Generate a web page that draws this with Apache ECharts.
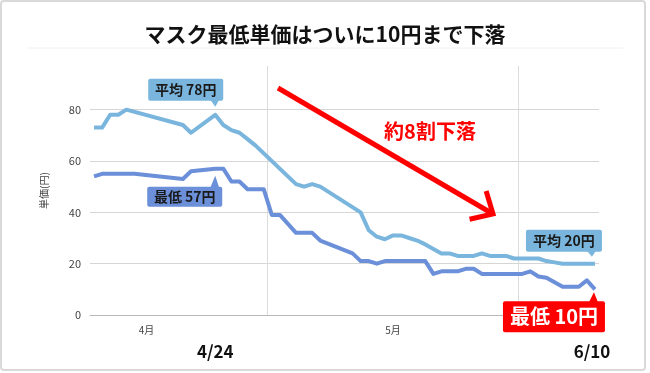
<!DOCTYPE html>
<html><head><meta charset="utf-8">
<script src="https://cdn.jsdelivr.net/npm/echarts@6/dist/echarts.min.js"></script>
<style>html,body{margin:0;padding:0;background:#fff}#c{width:650px;height:373px}</style>
</head><body><div id="c"></div>
<script>
// ---- data ----
const avgDates = ['4/9','4/10','4/11','4/12','4/13','4/20','4/21','4/24','4/25','4/26','4/27','4/28','4/29','5/4','5/5','5/6','5/7','5/12','5/13','5/14','5/15','5/16','5/17','5/18','5/19','5/20','5/22','5/23','5/24','5/25','5/26','5/27','5/28','5/29','5/30','5/31','6/1','6/2','6/3','6/4','6/5','6/6','6/7','6/8','6/9','6/10'];
const avgValues = [73,73,78,78,80,74,71,78,74,72,71,68.5,66,51,50,51,50,40,33,30.5,29.5,31,31,30,29,27.5,24,24,23,23,23,24,23,23,23,22,22,22,22,21,20.5,20,20,20,20,20];
const minDates = ['4/9','4/10','4/11','4/12','4/13','4/14','4/20','4/21','4/24','4/25','4/26','4/27','4/28','4/29','4/30','5/1','5/2','5/4','5/5','5/6','5/7','5/11','5/12','5/13','5/14','5/15','5/16','5/17','5/18','5/19','5/20','5/21','5/22','5/23','5/24','5/25','5/26','5/27','5/28','5/29','5/30','5/31','6/1','6/2','6/3','6/4','6/6','6/7','6/8','6/9','6/10'];
const minValues = [54,55,55,55,55,55,53,56,57,57,52,52,49,49,49,39,39,32,32,32,29,24,21,21,20,21,21,21,21,21,21,16,17,17,17,18,18,16,16,16,16,16,16,17,15,14.5,11,11,11,13.5,10];
const yTicks = [0,20,40,60,80];
const monthNames = ['4月','5月'];
const monthLengths = [30,31];
const titleText = 'マスク最低単価はついに10円まで下落';
const yName = '単価(円)';
const avgName = '平均', minName = '最低';
const dropText = '約8割下落';
const markDates = ['4/24','6/10'];

// day offset from Apr 1 00:00, point at middle of its day
function dayX(s){const p=s.split('/').map(Number);return (Date.UTC(2020,p[0]-1,p[1])-Date.UTC(2020,3,1))/864e5+0.5;}
const monthStarts=[], monthCenters=[];
let acc=0;
monthLengths.forEach(len=>{monthCenters.push(acc+len/2);acc+=len;monthStarts.push(acc);});

const FONT='"Noto Sans CJK JP","Noto Sans",sans-serif';
const AVG_C='#79b5dc', MIN_C='#6b8fd8';
const chart=echarts.init(document.getElementById('c'),null,{renderer:'canvas'});
chart.setOption({
  animation:false,
  backgroundColor:'#fff',
  textStyle:{fontFamily:FONT},
  grid:{left:90,right:51,top:66,bottom:58},
  xAxis:{type:'value',min:8,max:71,
    axisLine:{show:true,lineStyle:{color:'#b8b8b8',width:1}},
    axisTick:{show:false,customValues:monthStarts},
    splitLine:{show:true,lineStyle:{color:'#dcdcdc',width:1}},
    axisLabel:{customValues:monthCenters,margin:10,fontSize:10,color:'#444',fontFamily:FONT,
      formatter:v=>{const i=monthCenters.indexOf(v);return i>=0?monthNames[i]:'';}}
  },
  yAxis:{type:'value',min:0,max:97,
    name:yName,nameLocation:'middle',nameGap:41,nameRotate:90,
    nameTextStyle:{fontSize:10,color:'#444',fontFamily:FONT},
    axisLine:{show:false},
    axisTick:{show:false,customValues:yTicks},
    splitLine:{show:true,lineStyle:{color:'#d6d6d6',width:1}},
    axisLabel:{customValues:yTicks,margin:9,fontSize:11,color:'#444',fontFamily:FONT}
  },
  series:[
    {name:avgName,type:'line',symbol:'none',smooth:false,
      lineStyle:{color:AVG_C,width:4,join:'round'},
      data:avgDates.map((d,i)=>[dayX(d),avgValues[i]])},
    {name:minName,type:'line',symbol:'none',smooth:false,
      lineStyle:{color:MIN_C,width:4,join:'round'},
      data:minDates.map((d,i)=>[dayX(d),minValues[i]])}
  ]
});

const P=(x,y)=>chart.convertToPixel({gridIndex:0},[x,y]);
function callout(dateStr,dates,values,label,o){
  const v=values[dates.indexOf(dateStr)];
  const a=P(dayX(dateStr),v);
  const ax=a[0]+o.dx;
  let apexY,boxY,baseY;
  if(o.dir==='down'){apexY=a[1]-o.gap;baseY=apexY-o.tip;boxY=baseY-o.h;}
  else{apexY=a[1]+o.gap;baseY=apexY+o.tip;boxY=baseY;}
  const boxX=ax+o.right-o.w;
  return [
    {type:'rect',z:100,shape:{x:boxX,y:boxY,width:o.w,height:o.h,r:2},style:{fill:o.fill}},
    {type:'polygon',z:100,shape:{points:[[ax-5,baseY+(o.dir==='down'?-1:1)],[ax+4,baseY+(o.dir==='down'?-1:1)],[ax,apexY]]},style:{fill:o.fill}},
    {type:'text',z:101,x:boxX+o.w/2,y:boxY+o.h/2,style:{text:label+' '+v+'円',fill:o.color,font:o.font,align:'center',verticalAlign:'middle'}}
  ];
}
const g=[];
g.push({type:'rect',z:0,shape:{x:1,y:1,width:644,height:369,r:3},style:{fill:'none',stroke:'#d9d9d9',lineWidth:2}});
g.push({type:'line',z:1,shape:{x1:27,y1:48,x2:623,y2:48},style:{stroke:'#f0f0f0',lineWidth:1}});
g.push({type:'text',z:10,x:325,y:34,style:{text:titleText,fill:'#111',font:'bold 21px '+FONT,align:'center',verticalAlign:'middle'}});
// arrow
const s=[278,88], e=[493,214];
const ang=Math.atan2(s[1]-e[1],s[0]-e[0]), L=24, da=43*Math.PI/180;
g.push({type:'line',z:90,shape:{x1:s[0],y1:s[1],x2:e[0],y2:e[1]},style:{stroke:'#ff0000',lineWidth:5}});
g.push({type:'polyline',z:90,shape:{points:[[e[0]+L*Math.cos(ang+da),e[1]+L*Math.sin(ang+da)],e,[e[0]+L*Math.cos(ang-da),e[1]+L*Math.sin(ang-da)]]},style:{stroke:'#ff0000',lineWidth:5,lineJoin:'miter',fill:'none'}});
g.push({type:'text',z:91,x:430,y:131,style:{text:dropText,fill:'#ff0000',font:'bold 20px '+FONT,align:'center',verticalAlign:'middle'}});
// callouts
g.push(...callout('4/24',avgDates,avgValues,avgName,{dir:'down',dx:0,gap:8,tip:6,w:75,h:22,right:8,fill:AVG_C,color:'#1a1a1a',font:'bold 14px '+FONT}));
g.push(...callout('4/24',minDates,minValues,minName,{dir:'up',dx:0,gap:7,tip:11,w:75,h:20,right:7,fill:MIN_C,color:'#1a1a1a',font:'bold 14px '+FONT}));
g.push(...callout('6/10',avgDates,avgValues,avgName,{dir:'down',dx:-3,gap:7,tip:5,w:76,h:22,right:10,fill:AVG_C,color:'#1a1a1a',font:'bold 14px '+FONT}));
g.push(...callout('6/10',minDates,minValues,minName,{dir:'up',dx:-1,gap:3,tip:9,w:102,h:31,right:11,fill:'#ff0000',color:'#ffffff',font:'bold 20px '+FONT}));
// bottom date labels
markDates.forEach(d=>{const p=P(dayX(d),0);g.push({type:'text',z:10,x:p[0]-(d==='6/10'?3:0),y:352,style:{text:d,fill:'#111',font:'bold 17px '+FONT,align:'center',verticalAlign:'middle'}});});
chart.setOption({graphic:g});
</script></body></html>
